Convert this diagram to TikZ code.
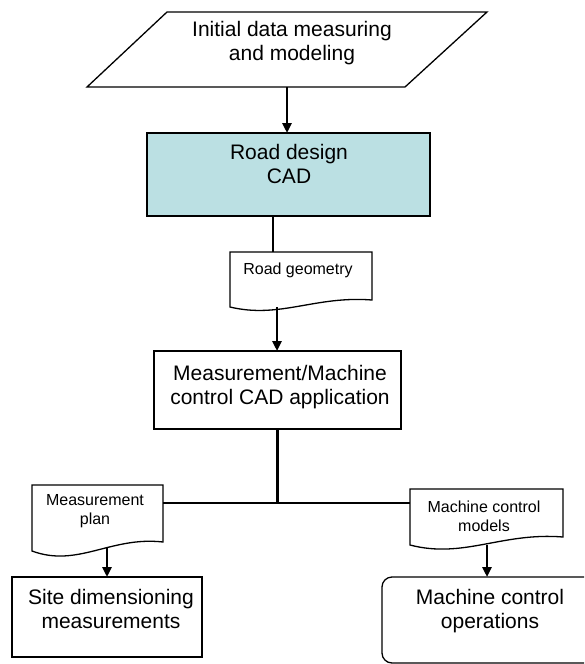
\documentclass[tikz,border=0pt]{standalone}
\usepackage{fontspec}
\setmainfont{Liberation Sans}
\usetikzlibrary{arrows.meta}
\definecolor{cadfill}{RGB}{187,224,227}
\tikzset{
  outline/.style={draw=black, line width=1.3pt, line join=miter},
  box/.style={outline, rectangle, inner sep=0pt, outer sep=0pt},
  bigtext/.style={font=\fontsize{21}{24}\selectfont, align=center, inner sep=0pt},
  smalltext/.style={font=\fontsize{16}{19}\selectfont, align=center, inner sep=0pt},
  link/.style={draw=black, line width=2.6pt},
  flow/.style={link, -{Triangle[length=10pt,width=9pt]}},
}
\begin{document}
\begin{tikzpicture}[x=1pt, y=-1pt]
  \useasboundingbox (0,0) rectangle (584,664);
  \clip (0,0) rectangle (584,664);
  \fill[white] (0,0) rectangle (584,664);

  % input parallelogram
  \draw[outline] (167,12) -- (487,12) -- (405,87) -- (87,87) -- cycle;
  \node[bigtext] (initial) at (292,43) {Initial data measuring\\and modeling};
  \coordinate (initial-out) at (287,87);

  % road design CAD
  \node[box, fill=cadfill, minimum width=283, minimum height=83] (cad) at (288.5,174.5) {};
  \node[bigtext] (cadtxt) at (289,164) {Road design\\CAD};

  % road geometry document
  \draw[outline] (230,252) -- (372,252) -- (372,300)
    .. controls (315.2,295.5) and (279.7,319) .. (230,307) -- cycle;
  \node[smalltext] (geomtxt) at (298,270) {Road geometry};
  \coordinate (geom-in) at (273,252);
  \coordinate (geom-out) at (277,307);

  % measurement / machine control application
  \node[box, minimum width=247, minimum height=78] (app) at (277.5,390) {};
  \node[bigtext] (apptxt) at (280,387) {Measurement/Machine\\control CAD application};

  % measurement plan document
  \draw[outline] (32,485) -- (163,485) -- (163,542)
    .. controls (110.6,536) and (77.9,568) .. (32,551) -- cycle;
  \node[smalltext] (plantxt) at (95,511) {Measurement\\plan};
  \coordinate (plan-east) at (163,503);
  \coordinate (plan-out) at (107,548);

  % machine control models document
  \draw[outline] (410,489) -- (563,489) -- (563,537)
    .. controls (501.8,532) and (463.6,559) .. (410,545) -- cycle;
  \node[smalltext] (modtxt) at (484,516) {Machine control\\models};
  \coordinate (models-west) at (410,503);
  \coordinate (models-out) at (487,545);

  % site dimensioning measurements
  \node[box, minimum width=190, minimum height=80] (site) at (107,617) {};
  \node[bigtext] (sitetxt) at (111,609) {Site dimensioning\\measurements};

  % machine control operations: rounded box running past the right and bottom edges
  \draw[outline, rounded corners=10pt] (640,577) -- (382,577) -- (382,663) -- (640,663);
  \node[inner sep=0pt, outer sep=0pt, minimum width=258, minimum height=86] (ops) at (511,620) {};
  \node[bigtext] (opstxt) at (490,611) {Machine control\\operations};

  % connectors
  \coordinate (junction) at (277.5,503);
  \draw[flow] (initial-out) -- (initial-out |- cad.north);
  \draw[link] (geom-in |- cad.south) -- (geom-in);
  \draw[flow] (geom-out) -- (geom-out |- app.north);
  \draw[link] (app.south) -- (junction);
  \draw[link] (plan-east) -- (models-west);
  \draw[flow] (plan-out) -- (plan-out |- site.north);
  \draw[flow] (models-out) -- (models-out |- ops.north);
\end{tikzpicture}
\end{document}
